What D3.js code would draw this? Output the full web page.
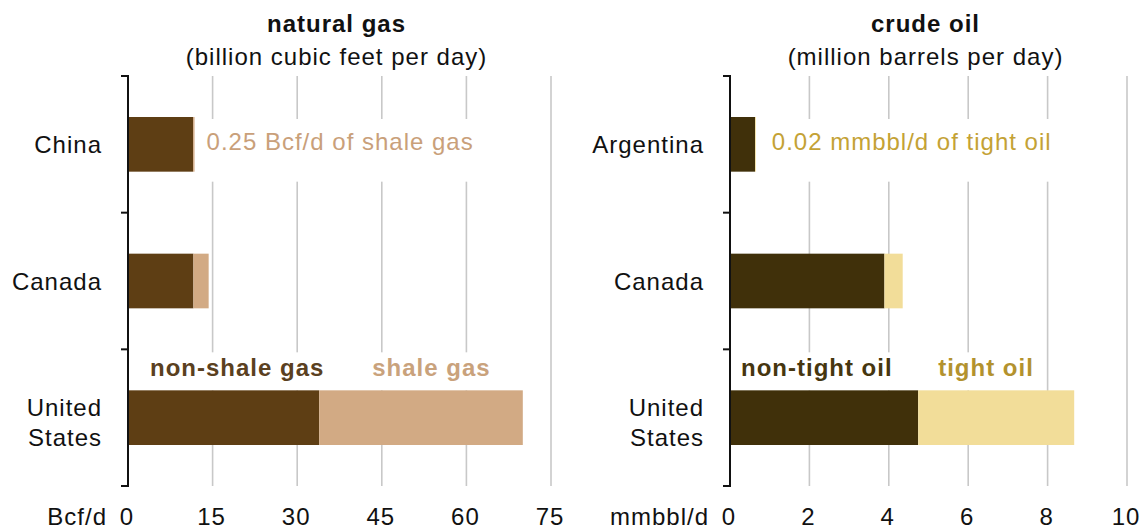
<!DOCTYPE html>
<html><head><meta charset="utf-8">
<script src="https://cdn.jsdelivr.net/npm/d3@7"></script>
<style>
html,body{margin:0;padding:0;background:#fff;}
svg{display:block;font-family:"Liberation Sans",Arial,sans-serif;}
text{letter-spacing:1px;}
</style></head>
<body>
<svg id="chart" width="1142" height="529"></svg>
<script>
// ---- data ----
const gasCategories = ["China", "Canada", "United States"];
const gasNonShale = [11.55, 11.6, 33.9];
const gasShale = [0.25, 2.7, 36.1];
const gasTicks = [0, 15, 30, 45, 60, 75];

const oilCategories = ["Argentina", "Canada", "United States"];
const oilNonTight = [0.63, 3.89, 4.74];
const oilTight = [0.02, 0.46, 3.93];
const oilTicks = [0, 2, 4, 6, 8, 10];

const panels = [
  {title: "natural gas", subtitle: "(billion cubic feet per day)", unit: "Bcf/d",
   cats: gasCategories, a: gasNonShale, b: gasShale, ticks: gasTicks,
   x0: 128, x1: 551, colA: "#5e3e14", colB: "#d2aa84",
   labA: "non-shale gas", labB: "shale gas", labAcol: "#5a4020", labBcol: "#c9a27c", labAoff: 22, labBoff: 53,
   note: "0.25 Bcf/d of shale gas", noteCol: "#c9a07a", noteOff: 12},
  {title: "crude oil", subtitle: "(million barrels per day)", unit: "mmbbl/d",
   cats: oilCategories, a: oilNonTight, b: oilTight, ticks: oilTicks,
   x0: 730, x1: 1127, colA: "#40300a", colB: "#f2dd99",
   labA: "non-tight oil", labB: "tight oil", labAcol: "#46360f", labBcol: "#b3922e", labAoff: 11, labBoff: 20,
   note: "0.02 mmbbl/d of tight oil", noteCol: "#c4a235", noteOff: 16}
];

const svg = d3.select("#chart");
const yTop = 76, yBot = 486;

panels.forEach(p => {
  const g = svg.append("g");
  const x = d3.scaleLinear().domain([p.ticks[0], p.ticks[p.ticks.length-1]]).range([p.x0, p.x1]);
  const y = d3.scaleBand().domain(p.cats).range([yTop, yBot]).paddingInner(0.6).paddingOuter(0.3);
  const step = y.step();

  // gridlines
  g.selectAll("line.grid").data(p.ticks.slice(1)).join("line")
    .attr("x1", d => x(d)).attr("x2", d => x(d))
    .attr("y1", yTop).attr("y2", yBot)
    .attr("stroke", "#c8c8c8").attr("stroke-width", 1.6);

  // title
  const cx = (p.x0 + p.x1) / 2 - 3;
  g.append("text").attr("x", cx).attr("y", 32).attr("text-anchor", "middle")
    .attr("font-size", 24).attr("font-weight", "bold").attr("fill", "#111").text(p.title);
  g.append("text").attr("x", cx).attr("y", 65).attr("text-anchor", "middle")
    .attr("font-size", 24).attr("fill", "#111").text(p.subtitle);

  // note with white backing (China / Argentina)
  const first = p.cats[0];
  const noteX = x(p.a[0] + p.b[0]) + p.noteOff;
  const noteT = g.append("text").attr("x", noteX).attr("y", y(first) + y.bandwidth()/2 + 6)
    .attr("font-size", 24).attr("fill", p.noteCol).text(p.note);
  const nb = noteT.node().getBBox();
  g.insert("rect", "text").attr("x", nb.x - 4).attr("y", y(first) + 2).attr("width", nb.width + 8)
    .attr("height", y.bandwidth() + 8).attr("fill", "#fff");

  // segment labels on last category
  const last = p.cats[p.cats.length - 1];
  const li = p.cats.length - 1;
  const ly = y(last) - 14;
  const tA = g.append("text").attr("x", x(0) + p.labAoff).attr("y", ly)
    .attr("font-size", 24).attr("font-weight", "bold").attr("fill", p.labAcol).text(p.labA);
  const tB = g.append("text").attr("x", x(p.a[li]) + p.labBoff).attr("y", ly)
    .attr("font-size", 24).attr("font-weight", "bold").attr("fill", p.labBcol).text(p.labB);
  [tA, tB].forEach(t => {
    const bb = t.node().getBBox();
    g.insert("rect", "text").attr("x", bb.x - 3).attr("y", bb.y - 2).attr("width", bb.width + 6)
      .attr("height", y(last) - bb.y + 2).attr("fill", "#fff");
  });

  // bars
  g.selectAll("rect.a").data(p.cats).join("rect").attr("class", "a")
    .attr("x", x(0)).attr("y", d => y(d))
    .attr("width", (d, i) => x(p.a[i]) - x(0)).attr("height", y.bandwidth())
    .attr("fill", p.colA);
  g.selectAll("rect.b").data(p.cats).join("rect").attr("class", "b")
    .attr("x", (d, i) => x(p.a[i])).attr("y", d => y(d))
    .attr("width", (d, i) => x(p.a[i] + p.b[i]) - x(p.a[i])).attr("height", y.bandwidth())
    .attr("fill", p.colB);

  // y axis line with boundary ticks
  g.append("line").attr("x1", x(0)).attr("x2", x(0)).attr("y1", yTop - 1).attr("y2", yBot + 1)
    .attr("stroke", "#111").attr("stroke-width", 2);
  const bounds = d3.range(p.cats.length + 1).map(i => yTop + i * step);
  g.selectAll("line.tk").data(bounds).join("line")
    .attr("x1", x(0) - 7).attr("x2", x(0)).attr("y1", d => d).attr("y2", d => d)
    .attr("stroke", "#111").attr("stroke-width", 2);

  // category labels
  p.cats.forEach(c => {
    const words = c.split(" ");
    const cy = y(c) + y.bandwidth() / 2;
    const t = g.append("text").attr("x", x(0) - 26).attr("text-anchor", "end")
      .attr("font-size", 24).attr("fill", "#111");
    if (words.length === 1) {
      t.attr("y", cy + 8.5).text(c);
    } else {
      words.forEach((w, k) => {
        t.append("tspan").attr("x", x(0) - 26).attr("y", cy - 2 + k * 30).text(w);
      });
    }
  });

  // x tick labels
  g.selectAll("text.xt").data(p.ticks).join("text")
    .attr("x", d => x(d) - 1).attr("y", 525).attr("text-anchor", "middle")
    .attr("font-size", 24).attr("fill", "#111").text(d => d);
  g.append("text").attr("x", x(0) - 21).attr("y", 525).attr("text-anchor", "end")
    .attr("font-size", 24).attr("fill", "#111").text(p.unit);
});
</script>
</body></html>
